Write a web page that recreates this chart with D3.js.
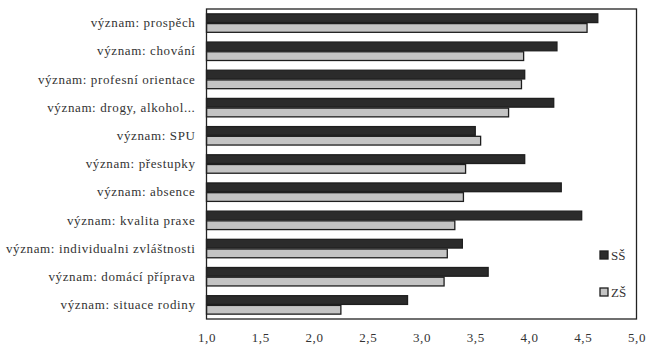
<!DOCTYPE html>
<html><head><meta charset="utf-8">
<script src="https://cdn.jsdelivr.net/npm/d3@7"></script>
<style>body{margin:0;background:#fff}svg{display:block}</style>
</head><body>
<svg id="c" width="653" height="355"></svg>
<script>
const categories = ["význam: prospěch","význam: chování","význam: profesní orientace","význam: drogy, alkohol...","význam: SPU","význam: přestupky","význam: absence","význam: kvalita praxe","význam: individualni zvláštnosti","význam: domácí příprava","význam: situace rodiny"];
const seriesNames = ["SŠ","ZŠ"];
const valuesSS = [4.64,4.26,3.96,4.23,3.50,3.96,4.30,4.49,3.38,3.62,2.87];
const valuesZS = [4.54,3.95,3.93,3.81,3.55,3.41,3.39,3.31,3.24,3.21,2.25];
const xTicks = [1.0,1.5,2.0,2.5,3.0,3.5,4.0,4.5,5.0];

const FONT = '"Liberation Serif"';
const svg = d3.select("#c");
const m = {l:206.5, r:636.5, t:9, b:319};
const x = d3.scaleLinear().domain([1,5]).range([m.l, m.r]);
const y = d3.scaleBand().domain(categories).range([m.t, m.b]).paddingInner(0.31).paddingOuter(0.155);
const sub = d3.scaleBand().domain(seriesNames).range([0, y.bandwidth()]);
const fills = {"SŠ":"#2b2b2b","ZŠ":"#c4c4c4"};

const data = [valuesSS, valuesZS];
seriesNames.forEach((s,i)=>{
  svg.append("g").selectAll("rect").data(categories).join("rect")
    .attr("x", x(1)).attr("y", c=>y(c)+sub(s)+0.5)
    .attr("width", (c,j)=>x(data[i][j])-x(1)).attr("height", sub.bandwidth()-1)
    .attr("fill", fills[s]).attr("stroke","#1e1e1e").attr("stroke-width",1.3);
});

svg.append("rect").attr("x",m.l).attr("y",m.t).attr("width",m.r-m.l).attr("height",m.b-m.t)
  .attr("fill","none").attr("stroke","#222").attr("stroke-width",1.3);

const xa = svg.append("g").attr("transform",`translate(0,${m.b})`)
  .call(d3.axisBottom(x).tickValues(xTicks).tickSize(0).tickPadding(14).tickFormat(d=>d3.format(".1f")(d).replace(".",",")));
xa.select(".domain").remove();
xa.selectAll("text").style("font-family",FONT).style("font-size","13px").attr("fill","#333").attr("letter-spacing","0.6px");

const ya = svg.append("g").attr("transform",`translate(${m.l},0)`)
  .call(d3.axisLeft(y).tickSize(0).tickPadding(11));
ya.select(".domain").remove();
ya.selectAll("text").style("font-family",FONT).style("font-size","13px").attr("fill","#333").attr("letter-spacing","0.62px");

const leg = svg.append("g");
const ly = [255, 292];
seriesNames.forEach((s,i)=>{
  leg.append("rect").attr("x",600).attr("y",ly[i]-4).attr("width",8).attr("height",8)
    .attr("fill",fills[s]).attr("stroke","#1e1e1e").attr("stroke-width",1.3);
  leg.append("text").attr("x",611).attr("y",ly[i]).attr("dy","0.35em")
    .style("font-family",FONT).style("font-size","13px").attr("fill","#333").text(s);
});
</script>
</body></html>
